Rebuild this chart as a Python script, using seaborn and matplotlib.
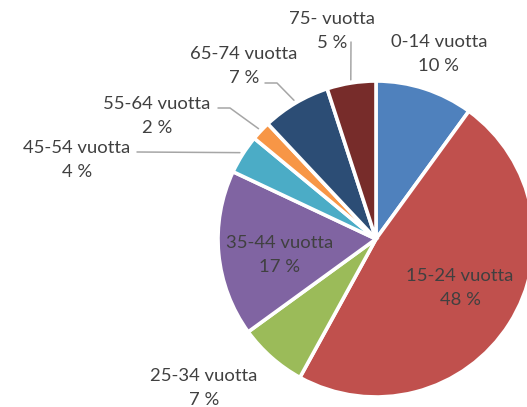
import matplotlib.pyplot as plt
import seaborn as sns
import numpy as np

# age groups and shares (%)
groups = ['0-14 vuotta', '15-24 vuotta', '25-34 vuotta', '35-44 vuotta',
          '45-54 vuotta', '55-64 vuotta', '65-74 vuotta', '75- vuotta']
shares = [10, 48, 7, 17, 4, 2, 7, 5]
colors = ['#4F81BD', '#C0504D', '#9BBB59', '#8064A2',
          '#4BACC6', '#F79646', '#2C4D75', '#772C2A']

W, H = 527, 407
# label centres in pixel coords (x, y from top)
label_pos = [(439, 54), (460, 288), (204, 388), (280, 255),
             (77, 160), (157, 116), (244, 66), (332, 31)]
# label-side start of the leader line (None = no leader)
leader_start = [None, None, None, None,
                [(137, 152)], [(218, 108), (230, 108)],
                [(265, 83), (277, 83)], [(351, 42)]]

sns.set_style('white')
plt.rcParams['font.family'] = ['Lato', 'DejaVu Sans']

fig = plt.figure(figsize=(W / 100, H / 100), dpi=100)
ax = fig.add_axes([0, 0, 1, 1])

cx, cy, r = 376, H - 239, 158
wedges, _ = ax.pie(shares, colors=sns.color_palette(colors), startangle=90,
                   counterclock=False, center=(cx, cy), radius=r, frame=True,
                   wedgeprops=dict(edgecolor='white', linewidth=2.6))

for i, w in enumerate(wedges):
    txt = f'{groups[i]}\n{shares[i]} %'
    lx, ly = label_pos[i]
    ax.text(lx, H - ly, txt, ha='center', va='center', fontsize=13.3,
            color='#404040', linespacing=1.62)
    if leader_start[i] is not None:
        mid = np.deg2rad((w.theta1 + w.theta2) / 2)
        px = cx + 1.02 * r * np.cos(mid)
        py = cy + 1.02 * r * np.sin(mid)
        xs = [p[0] for p in leader_start[i]] + [px]
        ys = [H - p[1] for p in leader_start[i]] + [py]
        ax.plot(xs, ys, color='#A6A6A6', linewidth=1.1)

ax.set_xlim(0, W)
ax.set_ylim(0, H)
ax.set_aspect('equal')
ax.axis('off')

fig.savefig('out.png', dpi=100)
